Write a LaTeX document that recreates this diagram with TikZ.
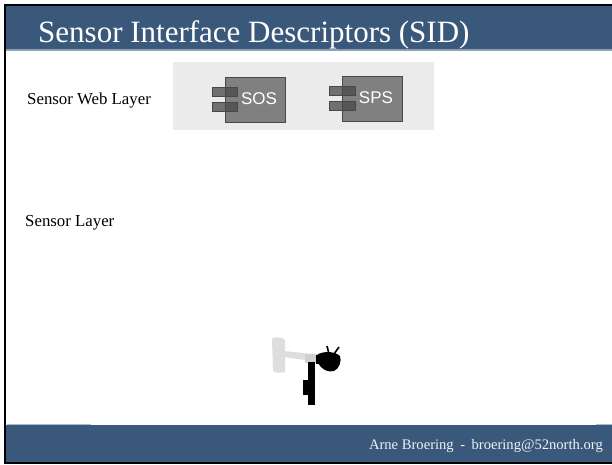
\documentclass[tikz,border=0pt]{standalone}
\usepackage{fontspec}
\setmainfont{Liberation Serif}
\newfontfamily\armfont{Liberation Sans}
\definecolor{slateblue}{RGB}{58,89,122}
\definecolor{rimline}{RGB}{140,160,182}
\definecolor{panelgray}{RGB}{235,235,235}
\definecolor{compgray}{RGB}{128,128,128}
\definecolor{compedge}{RGB}{72,72,72}
\definecolor{vanegray}{RGB}{222,222,222}
\tikzset{
  layerlabel/.style={font=\fontsize{16.8}{19}\selectfont, anchor=base west, inner sep=0pt},
  compbody/.style={fill=compgray, draw=compedge, line width=0.8pt},
  comptab/.style={fill=compedge, fill opacity=0.75, draw=compedge, line width=0.8pt},
  complabel/.style={font=\armfont\fontsize{17}{19}\selectfont, text=white, anchor=base, inner sep=0pt},
}
\begin{document}
\begin{tikzpicture}[x=1pt, y=-1pt]
\useasboundingbox (0,0) rectangle (612,464);
\fill[white] (0,0) rectangle (612,464);

% title bar
\fill[slateblue] (5,5) rectangle (612,49);
\fill[rimline] (5,49) rectangle (612,50.5);
\node[font=\fontsize{31}{34}\selectfont, text=white, anchor=base west, inner sep=0pt] (title) at (38,42) {Sensor Interface Descriptors (SID)};

% footer bar
\fill[slateblue] (5,425) rectangle (612,464);
\fill[rimline!70!white] (7,423.5) rectangle (91,425);
\fill[rimline!70!white] (596,423.5) rectangle (612,425);
\node[font=\fontsize{14.6}{17}\selectfont, text=white!92!slateblue, anchor=base east, inner sep=0pt] (footer) at (603,449)
  {Arne Broering\hspace{6.5pt}-\hspace{6.5pt}broering@52north.org};

% frame lines
\fill[black] (4,4) rectangle (612,6);
\fill[black] (4,4) rectangle (6,464);
\fill[black] (4,462) rectangle (612,464);

% layer labels
\node[layerlabel] (weblayer) at (27,104.5) {Sensor Web Layer};
\node[layerlabel] (sensorlayer) at (25,226.5) {Sensor Layer};

% service panel
\fill[panelgray] (173,62) rectangle (434,130);

% SOS component
\draw[compbody] (225,77) rectangle (285,122);
\draw[comptab] (212,87) rectangle (237,96);
\draw[comptab] (212,102) rectangle (237,111);
\node[complabel] (sos) at (259,104) {SOS};

% SPS component
\draw[compbody] (342,76) rectangle (402,121);
\draw[comptab] (329,86) rectangle (355,95);
\draw[comptab] (329,101) rectangle (355,110);
\node[complabel] (sps) at (376,103) {SPS};

% anemometer
\fill[vanegray] (272,340) .. controls (272,337) and (274,337) .. (282,338)
  -- (285,340) -- (285,372) .. controls (280,373) and (275,373) .. (273,371) -- cycle;
\fill[vanegray] (284,351) -- (312,354) -- (312,361) -- (284,357) -- cycle;
\fill[vanegray!85!gray] (305,354) rectangle (318,363);
\fill[black] (308,362) rectangle (315,405);
\fill[black] (303,380) rectangle (309,395);
\fill[black] (318,354) .. controls (326,351) and (334,351) .. (340,356)
  .. controls (342,361) and (339,369) .. (334,371)
  .. controls (328,373) and (321,369) .. (318,363) -- cycle;
\draw[black, line width=1.6pt] (329,354) -- (327,346);
\draw[black, line width=1.6pt] (334,354) -- (339,347);
\fill[black] (316,355) rectangle (320,364);
\end{tikzpicture}
\end{document}
